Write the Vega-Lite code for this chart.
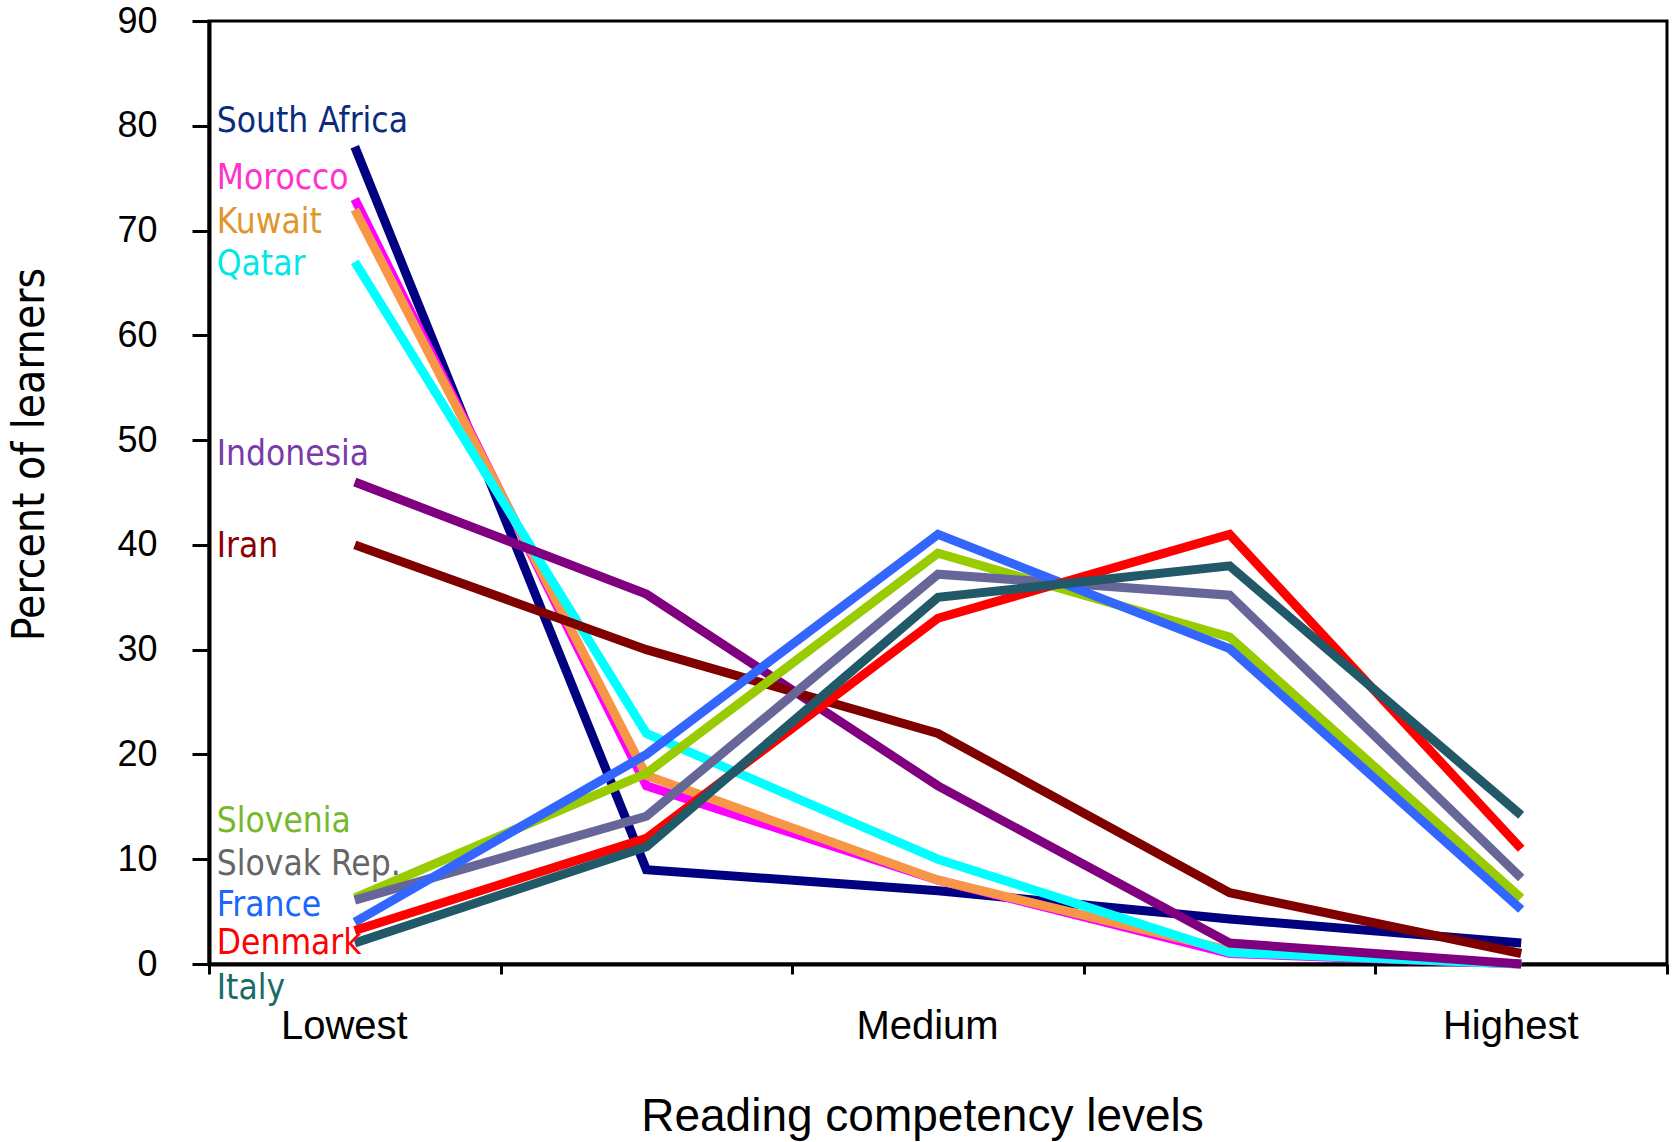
{
  "$schema": "https://vega.github.io/schema/vega-lite/v6.json",
  "width": 1458,
  "height": 943,
  "autosize": "none",
  "padding": {"left": 209, "top": 21, "right": 6, "bottom": 178},
  "background": "white",
  "config": {
    "view": {"stroke": "black", "strokeWidth": 3},
    "axis": {"grid": false, "domainColor": "black", "tickColor": "black", "labelColor": "black", "titleColor": "black", "labelFont": "Liberation Sans", "titleFont": "Liberation Sans", "titleFontWeight": "normal"}
  },
  "datasets": {
    "series": [
      {"country": "South Africa", "level": "Lowest", "pct": 78},
      {"country": "South Africa", "level": "Level 2", "pct": 9},
      {"country": "South Africa", "level": "Medium", "pct": 7},
      {"country": "South Africa", "level": "Level 4", "pct": 4.3},
      {"country": "South Africa", "level": "Highest", "pct": 2},
      {"country": "Morocco", "level": "Lowest", "pct": 73},
      {"country": "Morocco", "level": "Level 2", "pct": 17},
      {"country": "Morocco", "level": "Medium", "pct": 8},
      {"country": "Morocco", "level": "Level 4", "pct": 1},
      {"country": "Morocco", "level": "Highest", "pct": 0},
      {"country": "Kuwait", "level": "Lowest", "pct": 72},
      {"country": "Kuwait", "level": "Level 2", "pct": 18},
      {"country": "Kuwait", "level": "Medium", "pct": 8},
      {"country": "Kuwait", "level": "Level 4", "pct": 1.3},
      {"country": "Kuwait", "level": "Highest", "pct": 0},
      {"country": "Qatar", "level": "Lowest", "pct": 67},
      {"country": "Qatar", "level": "Level 2", "pct": 22},
      {"country": "Qatar", "level": "Medium", "pct": 10},
      {"country": "Qatar", "level": "Level 4", "pct": 1.1},
      {"country": "Qatar", "level": "Highest", "pct": 0},
      {"country": "Indonesia", "level": "Lowest", "pct": 46},
      {"country": "Indonesia", "level": "Level 2", "pct": 35.3},
      {"country": "Indonesia", "level": "Medium", "pct": 17},
      {"country": "Indonesia", "level": "Level 4", "pct": 2},
      {"country": "Indonesia", "level": "Highest", "pct": 0},
      {"country": "Iran", "level": "Lowest", "pct": 40},
      {"country": "Iran", "level": "Level 2", "pct": 30},
      {"country": "Iran", "level": "Medium", "pct": 22},
      {"country": "Iran", "level": "Level 4", "pct": 6.8},
      {"country": "Iran", "level": "Highest", "pct": 1},
      {"country": "Slovenia", "level": "Lowest", "pct": 6.3},
      {"country": "Slovenia", "level": "Level 2", "pct": 18.2},
      {"country": "Slovenia", "level": "Medium", "pct": 39.2},
      {"country": "Slovenia", "level": "Level 4", "pct": 31.2},
      {"country": "Slovenia", "level": "Highest", "pct": 6.3},
      {"country": "Slovak Rep.", "level": "Lowest", "pct": 6.1},
      {"country": "Slovak Rep.", "level": "Level 2", "pct": 14.1},
      {"country": "Slovak Rep.", "level": "Medium", "pct": 37.2},
      {"country": "Slovak Rep.", "level": "Level 4", "pct": 35.2},
      {"country": "Slovak Rep.", "level": "Highest", "pct": 8.2},
      {"country": "France", "level": "Lowest", "pct": 4},
      {"country": "France", "level": "Level 2", "pct": 20},
      {"country": "France", "level": "Medium", "pct": 41},
      {"country": "France", "level": "Level 4", "pct": 30.1},
      {"country": "France", "level": "Highest", "pct": 5.2},
      {"country": "Denmark", "level": "Lowest", "pct": 3.2},
      {"country": "Denmark", "level": "Level 2", "pct": 12},
      {"country": "Denmark", "level": "Medium", "pct": 33},
      {"country": "Denmark", "level": "Level 4", "pct": 41},
      {"country": "Denmark", "level": "Highest", "pct": 11},
      {"country": "Italy", "level": "Lowest", "pct": 2},
      {"country": "Italy", "level": "Level 2", "pct": 11.2},
      {"country": "Italy", "level": "Medium", "pct": 35},
      {"country": "Italy", "level": "Level 4", "pct": 38},
      {"country": "Italy", "level": "Highest", "pct": 14.2}
    ],
    "labels": [
      {"country": "South Africa", "pct": 80.6},
      {"country": "Morocco", "pct": 75.2},
      {"country": "Kuwait", "pct": 71.0},
      {"country": "Qatar", "pct": 67.0},
      {"country": "Indonesia", "pct": 48.9},
      {"country": "Iran", "pct": 40.1},
      {"country": "Slovenia", "pct": 13.8},
      {"country": "Slovak Rep.", "pct": 9.7},
      {"country": "France", "pct": 5.8},
      {"country": "Denmark", "pct": 2.2},
      {"country": "Italy", "pct": -2.1}
    ]
  },
  "layer": [
    {
      "data": {"name": "series"},
      "mark": {"type": "line", "strokeWidth": 9, "strokeCap": "butt", "strokeJoin": "miter"},
      "encoding": {
        "x": {
          "field": "level", "type": "nominal",
          "sort": ["Lowest", "Level 2", "Medium", "Level 4", "Highest"],
          "scale": {"paddingInner": 0, "paddingOuter": 0},
          "axis": {
            "title": "Reading competency levels",
            "labelAngle": 0,
            "labelExpr": "datum.label == 'Level 2' || datum.label == 'Level 4' ? '' : datum.label",
            "labelFontSize": 40, "labelBaseline": "alphabetic", "labelPadding": 64, "labelOffset": -11,
            "tickBand": "extent", "tickSize": 10, "tickWidth": 3, "domainWidth": 4,
            "titleFontSize": 46, "titleX": 713, "titleY": 166, "titleBaseline": "alphabetic", "titleAlign": "center"
          }
        },
        "y": {
          "field": "pct", "type": "quantitative",
          "scale": {"domain": [0, 90], "nice": false},
          "axis": {
            "title": "Percent of learners",
            "values": [0, 10, 20, 30, 40, 50, 60, 70, 80, 90],
            "labelFontSize": 36, "labelPadding": 35, "tickSize": 17, "tickWidth": 3, "domainWidth": 4,
            "titleFont": "DejaVu Sans Condensed, sans-serif",
            "titleFontSize": 44, "titleX": -179, "titleY": 433, "titleAlign": "center", "titleBaseline": "middle", "titleAngle": -90
          }
        },
        "color": {
          "field": "country", "type": "nominal", "legend": null,
          "scale": {
            "domain": ["South Africa", "Morocco", "Kuwait", "Qatar", "Indonesia", "Iran", "Slovenia", "Slovak Rep.", "France", "Denmark", "Italy"],
            "range": ["#000080", "#ff00ff", "#f79646", "#00ffff", "#800080", "#800000", "#99cc00", "#666699", "#3366ff", "#ff0000", "#215968"]
          }
        }
      }
    },
    {
      "data": {"name": "labels"},
      "mark": {"type": "text", "align": "left", "baseline": "middle", "dx": -138, "dy": 2, "fontSize": 35, "font": "DejaVu Sans Condensed, sans-serif"},
      "encoding": {
        "x": {"datum": "Lowest", "type": "nominal"},
        "y": {"field": "pct", "type": "quantitative"},
        "text": {"field": "country"},
        "color": {
          "field": "country", "type": "nominal", "legend": null,
          "scale": {
            "domain": ["South Africa", "Morocco", "Kuwait", "Qatar", "Indonesia", "Iran", "Slovenia", "Slovak Rep.", "France", "Denmark", "Italy"],
            "range": ["#0b2c7d", "#ff33cc", "#e0962e", "#00e8e8", "#7a3aa8", "#8b0000", "#77b82a", "#666666", "#1a66ff", "#ff0000", "#1a6b66"]
          }
        }
      }
    }
  ],
  "resolve": {"scale": {"color": "independent"}}
}
